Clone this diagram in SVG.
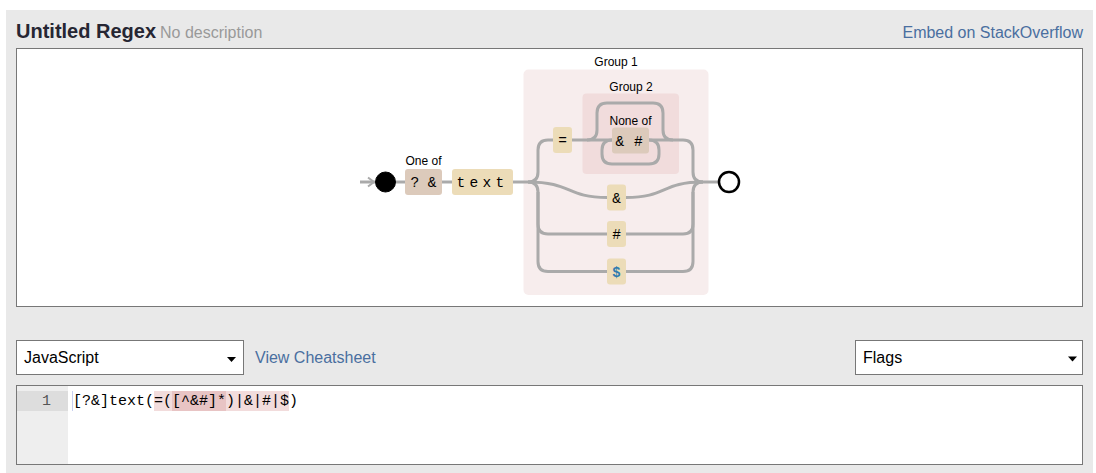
<svg xmlns="http://www.w3.org/2000/svg" width="1096" height="473" viewBox="0 0 1096 473">
<style>
.ui{font-family:"Liberation Sans",Arial,sans-serif}
.lbl{font-family:"Liberation Sans",Arial,sans-serif;font-size:12px;fill:#000;text-anchor:middle}
.mono{font-family:"Liberation Mono","DejaVu Sans Mono",monospace;font-size:14.5px;fill:#000}
.code{font-family:"Liberation Mono","DejaVu Sans Mono",monospace;font-size:15px}
.lit{fill:#ecdcb8}
.cls{fill:#dccabb}
.wire{fill:none;stroke:#aaaaaa;stroke-width:3}
.box{fill:#fff;stroke:#777;stroke-width:1}
.link{fill:#4a6fa0;font-size:16px}
</style>
<rect x="0" y="0" width="1096" height="473" fill="#fff"/>
<rect x="6" y="10" width="1087" height="463" fill="#e9e9e9"/>
<text class="ui" x="16" y="38" font-size="20" font-weight="bold" fill="#262633">Untitled Regex</text>
<text class="ui" x="160" y="38" font-size="16" fill="#999">No description</text>
<text class="ui link" x="1083" y="38" text-anchor="end">Embed on StackOverflow</text>
<rect class="box" x="16.5" y="48.5" width="1066" height="258"/>

<g id="group1">
<rect x="523.5" y="69.5" width="185" height="225.5" rx="5" fill="#f7eded"/>
<text class="lbl" x="616" y="66">Group 1</text>
</g>
<g id="group2">
<rect x="582.5" y="93.5" width="96.5" height="80.5" rx="4" fill="#f1dcdc"/>
<text class="lbl" x="631" y="90.5">Group 2</text>
</g>

<g id="connectors">
<path class="wire" d="M360,182 H375"/>
<path d="M368,177.5 L374,182 L368,186.5" fill="none" stroke="#aaaaaa" stroke-width="2"/>
<path class="wire" d="M396,182 H405"/>
<path class="wire" d="M442,182 H452"/>
<path class="wire" d="M513,182 H528"/>
<path class="wire" d="M528,182 q10,0 10,-10 V150 q0,-10 10,-10 H553"/>
<path class="wire" d="M528,182 C572,182 566,197.5 607,197.5"/>
<path class="wire" d="M528,182 q10,0 10,10 V224 q0,10 10,10 H607"/>
<path class="wire" d="M538,192 V261.5 q0,10 10,10 H607"/>
<path class="wire" d="M571,140 H612"/>
<path class="wire" d="M649,140 H683 q10,0 10,10 V172 q0,10 10,10"/>
<path class="wire" d="M587,140 q10,0 10,-10 V113 q0,-10 10,-10 H653 q10,0 10,10 V130 q0,10 10,10"/>
<path class="wire" d="M612,140 q-10,0 -10,10 V154 q0,10 10,10 H649 q10,0 10,-10 V150 q0,-10 -10,-10"/>
<path class="wire" d="M626,197.5 C667,197.5 661,182 703,182"/>
<path class="wire" d="M626,234 H683 q10,0 10,-10 V192 q0,-10 10,-10"/>
<path class="wire" d="M626,271.5 H683 q10,0 10,-10 V192"/>
<path class="wire" d="M703,182 H719"/>
</g>

<g id="start"><circle cx="385.5" cy="182" r="10" fill="#000" stroke="#000" stroke-width="1"/></g>
<g id="oneof">
<text class="lbl" x="423.5" y="165">One of</text>
<rect class="cls" x="405" y="169" width="37" height="26" rx="3"/>
<text class="mono" x="423.5" y="187" text-anchor="middle" xml:space="preserve">? &amp;</text>
</g>
<g id="text">
<rect class="lit" x="452" y="169" width="61" height="26" rx="3"/>
<text class="mono" x="456.5" y="187" letter-spacing="4.3">text</text>
</g>
<g id="eq">
<rect class="lit" x="553" y="127" width="19" height="26" rx="3"/>
<text class="mono" x="562.5" y="145" text-anchor="middle">=</text>
</g>
<g id="noneof">
<text class="lbl" x="630.5" y="125">None of</text>
<rect class="cls" x="612" y="127.5" width="37" height="26" rx="3"/>
<text class="mono" x="615.5" y="145.5" letter-spacing="0.6" xml:space="preserve">&amp; #</text>
</g>
<g id="amp">
<rect class="lit" x="607" y="184.5" width="19" height="26" rx="3"/>
<text class="mono" x="616.5" y="202.5" text-anchor="middle">&amp;</text>
</g>
<g id="hash">
<rect class="lit" x="607" y="221" width="19" height="26" rx="3"/>
<text class="mono" x="616.5" y="239" text-anchor="middle">#</text>
</g>
<g id="dollar">
<rect class="lit" x="607" y="258.5" width="19" height="26" rx="3"/>
<text class="ui" x="616.5" y="277" text-anchor="middle" font-size="14" font-weight="bold" fill="#2e7bb0">$</text>
</g>
<g id="end"><circle cx="729" cy="182" r="10" fill="#fff" stroke="#000" stroke-width="2.5"/></g>

<g id="lang">
<rect class="box" x="16.5" y="340.5" width="227" height="34"/>
<text class="ui" x="24" y="363" font-size="16" fill="#000">JavaScript</text>
<path d="M227,357 H236 L231.5,362 Z" fill="#000"/>
</g>
<text class="ui link" x="255" y="363">View Cheatsheet</text>
<g id="flags">
<rect class="box" x="855.5" y="340.5" width="227" height="34"/>
<text class="ui" x="863" y="363" font-size="16" fill="#000">Flags</text>
<path d="M1068,356.5 H1077 L1072.5,361.5 Z" fill="#000"/>
</g>
<g id="editor">
<rect class="box" x="16.5" y="385.5" width="1066" height="79"/>
<rect x="17" y="386" width="51" height="78" fill="#eeeeee"/>
<rect x="17" y="391" width="51" height="20" fill="#dddddd"/>
<text class="code" x="51" y="405" text-anchor="end" fill="#555">1</text>
<rect x="154" y="391" width="135" height="20" fill="#f2dcdc"/>
<rect x="172" y="391" width="54" height="20" fill="#e8c4c4"/>
<rect x="72" y="391" width="1" height="20" fill="#c8d0ef"/>
<text class="code" x="73" y="405" fill="#000">[?&amp;]text(=([^&amp;#]*)|&amp;|#|$)</text>
</g>
</svg>
